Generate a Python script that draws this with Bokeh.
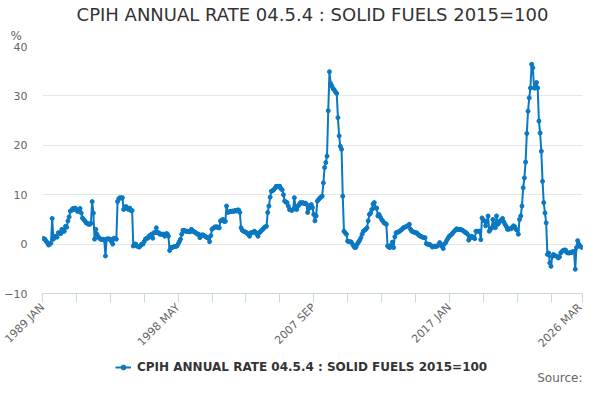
from bokeh.plotting import figure
from bokeh.layouts import column
from bokeh.models import Range1d, FixedTicker, Title, Legend, LegendItem, ColumnDataSource, Label
from bokeh.embed import file_html
from bokeh.resources import INLINE

series_name = "CPIH ANNUAL RATE 04.5.4 : SOLID FUELS 2015=100"

v1989 = [1.2, 1.1, 1.0, 0.6, 0.3, -0.2, 0.0, 0.2, 5.2, 1.0, 1.6, 1.5]
v1990 = [1.4, 2.3, 2.3, 2.1, 3.0, 2.6, 2.6, 3.6, 3.4, 4.7, 5.5, 6.7]
v1991 = [6.8, 7.2, 7.0, 7.3, 7.0, 6.6, 6.8, 7.2, 6.3, 5.3, 5.0, 4.7]
v1992 = [4.3, 4.2, 4.0, 4.0, 4.2, 8.6, 6.3, 1.0, 3.0, 2.0, 1.5, 1.2]
v1993 = [1.0, 0.9, 1.0, 0.8, -2.4, 1.0, 1.1, 1.0, 1.0, 0.5, 0.0, 1.2]
v1994 = [1.1, 1.0, 8.6, 9.2, 9.4, 9.3, 9.4, 7.0, 7.5, 7.6, 7.2, 7.0]
v1995 = [7.3, 6.8, 6.8, -0.4, 0.0, 0.0, -0.4, -0.5, -0.6, -0.3, 0.0, 0.0]
v1996 = [0.5, 1.0, 1.2, 1.2, 1.6, 1.8, 2.0, 1.2, 2.3, 2.3, 3.3, 2.3]
v1997 = [2.3, 2.0, 2.0, 2.0, 2.0, 1.6, 2.1, 2.1, 1.6, -1.3, -0.7, -0.7]
v1998 = [-0.6, -0.5, -0.5, -0.4, 0.0, 0.5, 1.0, 2.0, 2.8, 2.8, 2.6, 2.6]
v1999 = [2.6, 2.5, 2.5, 3.0, 2.7, 2.5, 2.4, 2.2, 2.0, 2.0, 1.3, 1.6]
v2000 = [1.9, 1.8, 1.6, 1.5, 1.3, 1.2, 0.5, 1.7, 3.0, 3.2, 3.4, 3.5]
v2001 = [3.5, 3.3, 3.3, 4.7, 4.8, 5.0, 4.6, 4.6, 7.7, 6.4, 6.5, 6.6]
v2002 = [6.6, 6.7, 6.6, 6.8, 6.7, 6.9, 6.9, 6.4, 3.3, 2.8, 2.6, 2.5]
v2003 = [2.4, 2.2, 2.0, 1.6, 2.3, 2.3, 2.4, 2.6, 2.4, 2.0, 1.6, 2.3]
v2004 = [2.5, 2.8, 3.0, 3.3, 3.5, 3.6, 6.4, 7.7, 9.5, 10.7, 10.8, 11.0]
v2005 = [11.3, 11.7, 11.6, 11.7, 11.7, 11.2, 11.0, 10.0, 8.7, 8.5, 8.4, 7.7]
v2006 = [7.0, 6.9, 6.8, 7.0, 9.4, 7.5, 7.0, 7.7, 8.0, 8.4, 8.3, 8.4]
v2007 = [8.2, 8.3, 8.1, 6.4, 7.2, 7.7, 8.0, 7.4, 6.0, 4.7, 5.7, 8.7]
v2008 = [9.0, 9.3, 9.5, 9.7, 12.4, 15.5, 16.5, 17.8, 27.0, 34.9, 32.5, 32.0]
v2009 = [31.5, 31.2, 30.8, 30.5, 25.6, 21.9, 19.8, 19.2, 9.7, 2.6, 2.3, 2.0]
v2010 = [0.6, 0.5, 0.5, 0.4, 0.0, -0.4, -0.7, -0.6, 0.0, 0.4, 0.8, 1.3]
v2011 = [2.0, 2.6, 2.8, 3.0, 3.3, 4.7, 6.0, 6.3, 7.0, 8.1, 8.4, 7.3]
v2012 = [7.3, 5.7, 6.0, 5.5, 5.0, 4.7, 4.3, 4.2, 4.0, -0.4, -0.6, -0.7]
v2013 = [-0.2, 0.4, -0.7, 1.5, 2.3, 2.3, 2.5, 2.6, 2.8, 3.0, 3.3, 3.4]
v2014 = [3.5, 3.6, 3.8, 4.0, 3.0, 2.6, 2.5, 2.4, 2.3, 2.3, 2.0, 1.8]
v2015 = [1.6, 1.5, 1.4, 1.3, 1.3, 0.1, 0.0, -0.1, -0.1, -0.3, -0.6, -0.5]
v2016 = [-0.4, -0.5, -0.4, -0.2, 0.3, 0.0, -0.5, -0.9, 0.0, 0.3, 0.8, 1.2]
v2017 = [1.6, 1.8, 2.0, 2.3, 2.6, 2.8, 3.1, 3.0, 2.9, 3.0, 2.9, 2.8]
v2018 = [2.6, 2.4, 2.3, 2.0, 0.8, 1.2, 1.6, 1.5, 1.3, 1.1, 2.6, 2.6]
v2019 = [2.6, 2.6, 0.9, 5.3, 4.9, 4.7, 3.7, 4.5, 5.7, 2.6, 3.0, 3.3]
v2020 = [5.0, 4.0, 3.3, 5.7, 4.0, 4.3, 4.7, 4.9, 5.2, 4.5, 4.0, 3.6]
v2021 = [3.0, 3.0, 3.1, 3.1, 3.4, 3.7, 3.5, 3.0, 2.8, 2.0, 5.0, 5.7]
v2022 = [7.7, 11.4, 13.4, 16.6, 22.4, 26.9, 29.6, 31.6, 36.4, 35.7, 31.6, 31.6]
v2023 = [32.7, 31.6, 24.9, 22.5, 18.8, 12.7, 8.4, 6.3, 4.3, -2.1, -1.8, -3.8]
v2024 = [-4.5, -2.5, -2.1, -2.3, -2.4, -2.5, -2.8, -2.6, -1.8, -1.5, -1.3, -1.2]
v2025 = [-1.2, -1.7, -1.8, -1.8, -1.7, -1.7, -1.5, -1.5, -5.1, -0.7, 0.7, 0.0]
v2026 = [-0.4, -0.6, -0.7]

tick_labels = {0: "1989 JAN", 112: "1998 MAY", 224: "2007 SEP", 336: "2017 JAN", 446: "2026 MAR"}
minor_tick_positions = [28, 56, 84, 140, 168, 196, 252, 280, 308, 364, 392, 420]
y_ticks = [-10, 0, 10, 20, 30, 40]

values = (v1989 + v1990 + v1991 + v1992 + v1993 + v1994 + v1995 + v1996 + v1997 + v1998
          + v1999 + v2000 + v2001 + v2002 + v2003 + v2004 + v2005 + v2006 + v2007 + v2008
          + v2009 + v2010 + v2011 + v2012 + v2013 + v2014 + v2015 + v2016 + v2017 + v2018
          + v2019 + v2020 + v2021 + v2022 + v2023 + v2024 + v2025 + v2026)
idx = list(range(len(values)))
src = ColumnDataSource(data=dict(x=idx, y=values))

FONT = "DejaVu Sans"
BLUE = "#0a78c2"

p = figure(width=584, height=357, output_backend="svg", toolbar_location=None,
           x_range=Range1d(0, len(values) - 1), y_range=Range1d(-10, 40),
           min_border_left=42, min_border_right=2, min_border_top=46, min_border_bottom=56)
p.title = None
p.outline_line_color = None
p.background_fill_color = "white"
p.border_fill_color = "white"

pct = Title(text="%", align="left", text_font=FONT, text_font_size="12px",
            text_font_style="normal", text_color="#666666", offset=-32, standoff=8)
main = Title(text=series_name, align="center", text_font=FONT, text_font_size="18px",
             text_font_style="normal", text_color="#333333", standoff=-4)
p.add_layout(pct, "above")
p.add_layout(main, "above")

line_r = p.line("x", "y", source=src, line_color=BLUE, line_width=2)
dot_r = p.scatter("x", "y", source=src, size=4, fill_color=BLUE, line_color=BLUE)

xa = p.xaxis[0]
xa.ticker = FixedTicker(ticks=list(tick_labels.keys()), minor_ticks=minor_tick_positions)
xa.major_label_overrides = tick_labels
xa.major_label_orientation = 0.785398
xa.axis_line_color = "#ccd6eb"
xa.major_tick_line_color = "#ccd6eb"
xa.minor_tick_line_color = "#ccd6eb"
xa.major_tick_out = 9
xa.major_tick_in = 0
xa.minor_tick_out = 9
xa.minor_tick_in = 0
xa.major_label_text_font = FONT
xa.major_label_text_font_size = "11px"
xa.major_label_text_color = "#666666"
xa.major_label_standoff = 3

ya = p.yaxis[0]
ya.ticker = FixedTicker(ticks=y_ticks)
ya.axis_line_color = None
ya.major_tick_line_color = None
ya.minor_tick_line_color = None
ya.major_tick_out = 0
ya.major_tick_in = 0
ya.minor_tick_out = 0
ya.minor_tick_in = 0
ya.major_label_text_font = FONT
ya.major_label_text_font_size = "11px"
ya.major_label_text_color = "#666666"
ya.major_label_standoff = 15

p.xgrid.grid_line_color = None
p.ygrid.grid_line_color = "#e6e6e6"
p.ygrid.ticker = FixedTicker(ticks=y_ticks)

# bottom strip: legend and source note (its frame is aligned with the main frame)
p2 = figure(width=584, height=27, output_backend="svg", toolbar_location=None,
            x_range=Range1d(-2000, -1000), y_range=Range1d(-2000, -1000),
            x_axis_location=None, y_axis_location=None, min_border=0)
p2.title = None
p2.outline_line_color = None
p2.xgrid.visible = False
p2.ygrid.visible = False
l2 = p2.line("x", "y", source=src, line_color=BLUE, line_width=2)
s2 = p2.scatter("x", "y", source=src, size=4, fill_color=BLUE, line_color=BLUE)

legend = Legend(items=[LegendItem(label=series_name, renderers=[l2, s2])],
                orientation="horizontal", location=(73, 10), padding=0, margin=0,
                glyph_width=16, glyph_height=12, label_standoff=6,
                label_text_font=FONT, label_text_font_size="12px",
                label_text_font_style="bold", label_text_color="#333333",
                border_line_color=None, background_fill_alpha=0)
p2.add_layout(legend)

source_t = Label(x=540, y=7, x_units="screen", y_units="screen", text="Source:",
                 text_align="right", text_baseline="middle", text_font=FONT,
                 text_font_size="12px", text_color="#666666")
p2.add_layout(source_t)

layout = column(p, p2, spacing=0)
open("out.html", "w").write(file_html(layout, INLINE))
